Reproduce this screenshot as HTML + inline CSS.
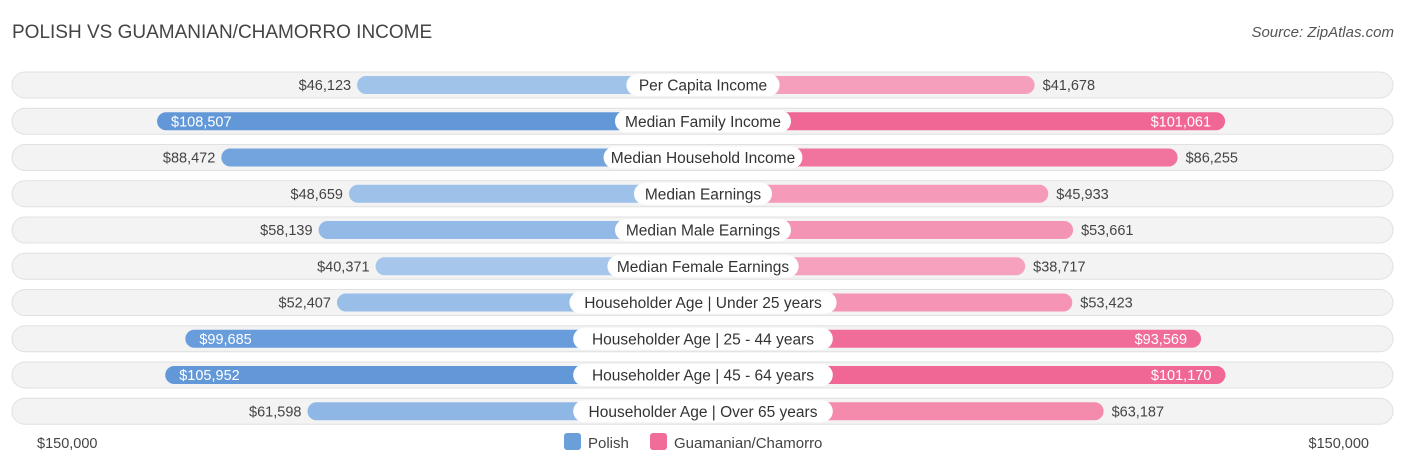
<!DOCTYPE html>
<html><head><meta charset="utf-8"><style>
body{margin:0;width:1406px;height:467px;background:#fff;font-family:"Liberation Sans",sans-serif;overflow:hidden;position:relative}
#title{position:absolute;left:12px;top:22px;font-size:19px;color:#444}
#src{position:absolute;right:12px;top:24px;font-size:15px;color:#555;font-style:italic}
svg{position:absolute;left:0;top:0}
</style></head><body>
<div id="title">POLISH VS GUAMANIAN/CHAMORRO INCOME</div>
<div id="src">Source: ZipAtlas.com</div>
<svg id="chart" width="1406" height="467"></svg>
<script>
const categories=["Per Capita Income","Median Family Income","Median Household Income","Median Earnings","Median Male Earnings","Median Female Earnings","Householder Age | Under 25 years","Householder Age | 25 - 44 years","Householder Age | 45 - 64 years","Householder Age | Over 65 years"];
const polish=[46123,108507,88472,48659,58139,40371,52407,99685,105952,61598];
const guam=[41678,101061,86255,45933,53661,38717,53423,93569,101170,63187];
const axisMax=150000;
const svg=document.getElementById('chart');
const NS='http://www.w3.org/2000/svg';
const cx=703, off=198, scale=(703-24-off)/axisMax;
function len(v){return off+v*scale;}
function rowY(i){return 85+i*36.25;}
function mix(a,b,t){return '#'+a.map((x,k)=>Math.round(x+(b[k]-x)*t).toString(16).padStart(2,'0')).join('');}
function el(tag,attrs,txt){const e=document.createElementNS(NS,tag);for(const k in attrs)e.setAttribute(k,attrs[k]);if(txt!==undefined)e.textContent=txt;svg.appendChild(e);return e;}
const fmt=v=>'$'+v.toLocaleString('en-US');
categories.forEach((c,i)=>{
 const y=rowY(i);
 const bg=el('rect',{x:12,y:y-13,width:1381,height:26,rx:13,fill:'#f3f3f3',stroke:'#e0e0e0','stroke-width':1});
 
 
 const tp=Math.min(1,Math.max(0,(polish[i]-40000)/65000));
 const tg=Math.min(1,Math.max(0,(guam[i]-38000)/62000));
 const lp=len(polish[i]), lg=len(guam[i]);
 const bp=el('rect',{x:cx-lp,y:y-9,width:lp,height:18,rx:9,fill:mix([0xa6,0xc7,0xeb],[0x62,0x98,0xd8],tp)});
 
 
 const bg2=el('rect',{x:cx,y:y-9,width:lg,height:18,rx:9,fill:mix([0xf6,0xa3,0xbe],[0xf0,0x67,0x95],tg)});
 
 
 const inside=polish[i]>90000;
 const t1=el('text',{x:inside?cx-lp+14:cx-lp-6,y:y+5,'font-size':14.5,fill:inside?'#fff':'#444','text-anchor':inside?'start':'end'},fmt(polish[i]));
 
 
 const ins2=guam[i]>90000;
 const t2=el('text',{x:ins2?cx+lg-14:cx+lg+8,y:y+5,'font-size':14.5,fill:ins2?'#fff':'#444','text-anchor':ins2?'end':'start'},fmt(guam[i]));
 
 
 const w=c.length*7.6+24;
 const pill=el('rect',{x:cx-w/2,y:y-11,width:w,height:22,rx:11,fill:'#fff'});
 
 
 const ct=el('text',{x:cx,y:y+5.5,'font-size':15.5,fill:'#333','text-anchor':'middle'},c);
 
 
});
const a1=el('text',{x:37,y:448,'font-size':14.5,fill:'#444'},'$150,000');


const a2=el('text',{x:1369,y:448,'font-size':14.5,fill:'#444','text-anchor':'end'},'$150,000');


const l1=el('rect',{x:564,y:433,width:17,height:17,rx:3,fill:'#6a9fd9'});


const lt1=el('text',{x:588,y:448,'font-size':15,fill:'#444'},'Polish');


const l2=el('rect',{x:650,y:433,width:17,height:17,rx:3,fill:'#f06d99'});


const lt2=el('text',{x:674,y:448,'font-size':15,fill:'#444'},'Guamanian/Chamorro');


</script>
</body></html>
